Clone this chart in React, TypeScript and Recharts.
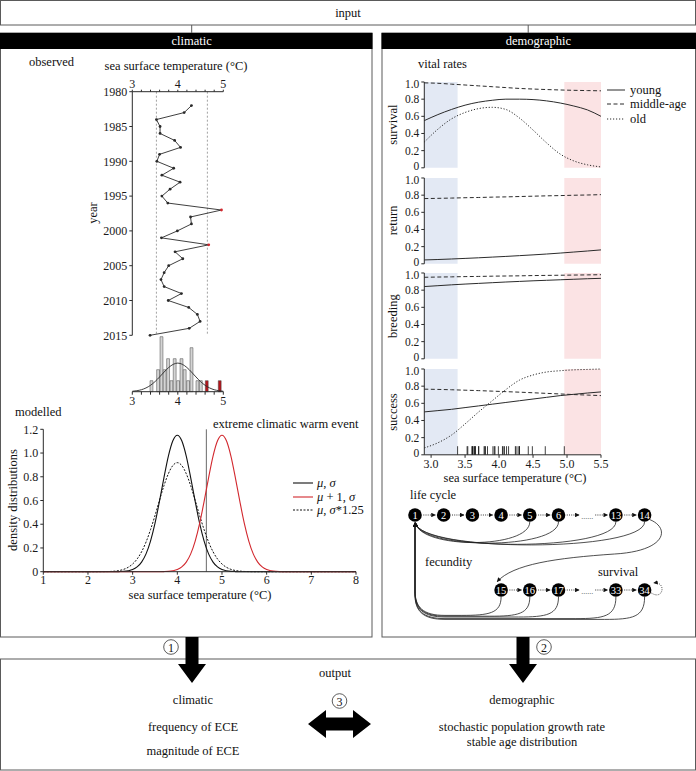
import React from 'react';
import {
  ScatterChart, Scatter, LineChart, Line, BarChart, Bar, Cell,
  XAxis, YAxis, ReferenceLine, ReferenceArea,
} from 'recharts';

const FONT = '"Liberation Serif", "Times New Roman", Times, serif';
const INK = '#2a2a2a';
const FRAME = '#5a5a5a';
const RED = '#d2282e';
const DARK_RED = '#b5141b';
const COLD_FILL = '#e3e9f4';
const WARM_FILL = '#fbe3e4';
const TICK = { fontSize: 12, fill: '#1a1a1a', fontFamily: FONT };

// ---------------- observed sea surface temperature ----------------
const YEARS = [1982, 1983, 1984, 1985, 1986, 1987, 1988, 1989, 1990, 1991, 1992, 1993, 1994, 1995, 1996, 1997, 1998,
  1999, 2000, 2001, 2002, 2003, 2004, 2005, 2006, 2007, 2008, 2009, 2010, 2011, 2012, 2013, 2014, 2015];
const SST = [4.30, 4.14, 3.53, 3.61, 3.61, 3.93, 4.06, 3.60, 3.54, 3.91, 3.65, 4.05, 3.83, 3.65, 3.78, 4.96, 4.28,
  4.30, 3.99, 3.64, 4.68, 3.94, 4.11, 3.80, 3.70, 3.63, 3.70, 4.08, 3.79, 4.24, 4.43, 4.49, 4.25, 3.39];
const LOWER_DASHED = 3.53;
const ECE_THRESHOLD = 4.65;
const OBS_TICKS_X = [3, 3.2, 3.4, 3.6, 3.8, 4, 4.2, 4.4, 4.6, 4.8, 5];
const OBS_TICKS_Y = [1980, 1985, 1990, 1995, 2000, 2005, 2010, 2015];

// histogram of observed values
const HIST_CENTERS = [3.425, 3.57, 3.645, 3.715, 3.79, 3.865, 3.935, 4.01, 4.085, 4.155, 4.23, 4.305, 4.435, 4.51, 4.64, 4.925];
const HIST_COUNTS = [1, 2, 5, 2, 3, 1, 3, 1, 3, 2, 1, 4, 1, 1, 1, 1];
const HIST_BIN_WIDTH = 0.0735;
const FIT_X = [3.0, 3.1, 3.2, 3.3, 3.4, 3.5, 3.6, 3.7, 3.8, 3.9, 4.0, 4.1, 4.2, 4.3, 4.4, 4.5, 4.6, 4.7, 4.8, 4.9, 5.0];
const FIT_COUNTS = [0.04, 0.09, 0.18, 0.34, 0.58, 0.92, 1.34, 1.79, 2.20, 2.49, 2.60, 2.49, 2.20, 1.79, 1.34, 0.92, 0.58, 0.34, 0.18, 0.09, 0.04];

// ---------------- modelled density distributions ----------------
const DENS_X = [1, 1.5, 2, 2.4, 2.5, 2.6, 2.7, 2.8, 2.9, 3.0, 3.1, 3.2, 3.3, 3.4, 3.5, 3.6, 3.7, 3.8, 3.9, 4.0, 4.1, 4.2,
  4.3, 4.4, 4.5, 4.6, 4.7, 4.8, 4.9, 5.0, 5.1, 5.2, 5.3, 5.4, 5.5, 5.6, 5.7, 5.8, 5.9, 6.0, 6.1, 6.2, 6.3, 6.4, 6.5, 6.6, 7, 7.5, 8];
const DENS_BASE = [0, 0, 0, 0, 0, 0, 0.001, 0.003, 0.008, 0.018, 0.040, 0.081, 0.150, 0.258, 0.407, 0.592, 0.791, 0.974,
  1.103, 1.150, 1.103, 0.974, 0.791, 0.592, 0.407, 0.258, 0.150, 0.081, 0.040, 0.018, 0.008, 0.003, 0.001,
  0, 0, 0, 0, 0, 0, 0, 0, 0, 0, 0, 0, 0, 0, 0, 0];
const DENS_WARM = [0, 0, 0, 0, 0, 0, 0, 0, 0, 0, 0, 0, 0, 0, 0, 0, 0.001, 0.003, 0.008, 0.018, 0.040, 0.081, 0.150,
  0.258, 0.407, 0.592, 0.791, 0.974, 1.103, 1.150, 1.103, 0.974, 0.791, 0.592, 0.407, 0.258, 0.150, 0.081, 0.040,
  0.018, 0.008, 0.003, 0.001, 0, 0, 0, 0, 0, 0];
const DENS_WIDE = [0, 0, 0, 0.001, 0.002, 0.005, 0.010, 0.020, 0.037, 0.065, 0.107, 0.168, 0.250, 0.354, 0.473, 0.601,
  0.724, 0.826, 0.895, 0.919, 0.895, 0.826, 0.724, 0.601, 0.473, 0.354, 0.250, 0.168, 0.107, 0.065, 0.037, 0.020,
  0.010, 0.005, 0.002, 0.001, 0, 0, 0, 0, 0, 0, 0, 0, 0, 0, 0, 0, 0];
const DENS_TICKS_X = [1, 2, 3, 4, 5, 6, 7, 8];
const DENS_TICKS_Y = [0, 0.2, 0.4, 0.6, 0.8, 1.0, 1.2];

// ---------------- vital rates ----------------
const VR_X = [2.9, 3.1, 3.3, 3.5, 3.7, 3.9, 4.1, 4.3, 4.5, 4.7, 4.9, 5.1, 5.3, 5.5];
const SURV_YOUNG = [0.55, 0.62, 0.68, 0.73, 0.765, 0.787, 0.80, 0.80, 0.795, 0.78, 0.755, 0.72, 0.675, 0.60];
const SURV_MIDDLE = [0.99, 0.985, 0.975, 0.965, 0.955, 0.945, 0.935, 0.925, 0.918, 0.912, 0.907, 0.903, 0.90, 0.897];
const SURV_OLD = [0.30, 0.45, 0.57, 0.645, 0.69, 0.705, 0.68, 0.58, 0.44, 0.29, 0.16, 0.08, 0.035, 0.01];
const RET_YOUNG = [0.045, 0.05, 0.056, 0.063, 0.07, 0.078, 0.086, 0.095, 0.104, 0.114, 0.125, 0.137, 0.149, 0.162];
const RET_MIDDLE = [0.76, 0.763, 0.766, 0.77, 0.773, 0.777, 0.78, 0.784, 0.788, 0.792, 0.795, 0.799, 0.802, 0.806];
const BREED_YOUNG = [0.842, 0.852, 0.862, 0.871, 0.879, 0.887, 0.895, 0.902, 0.909, 0.915, 0.921, 0.927, 0.933, 0.938];
const BREED_MIDDLE = [0.95, 0.953, 0.955, 0.958, 0.96, 0.963, 0.965, 0.967, 0.97, 0.972, 0.974, 0.976, 0.978, 0.98];
const SUCC_YOUNG = [0.50, 0.515, 0.53, 0.55, 0.57, 0.59, 0.61, 0.63, 0.65, 0.67, 0.69, 0.705, 0.72, 0.733];
const SUCC_MIDDLE = [0.765, 0.762, 0.758, 0.753, 0.748, 0.742, 0.736, 0.73, 0.723, 0.716, 0.709, 0.702, 0.696, 0.69];
const SUCC_OLD = [0.08, 0.14, 0.23, 0.36, 0.50, 0.63, 0.76, 0.87, 0.93, 0.965, 0.98, 0.99, 0.995, 1.0];
const VR_TICKS_X = [3.0, 3.5, 4.0, 4.5, 5.0, 5.5];
const VR_TICKS_Y = [0, 0.2, 0.4, 0.6, 0.8, 1.0];
const VR_LABELS = ['survival', 'return', 'breeding', 'success'];
const VR_LEGEND = ['young', 'middle-age', 'old'];

// ---------------- life cycle ----------------
const LIFE_NODES = [
  { label: '1', col: 0, row: 0 }, { label: '2', col: 1, row: 0 }, { label: '3', col: 2, row: 0 },
  { label: '4', col: 3, row: 0 }, { label: '5', col: 4, row: 0 }, { label: '6', col: 5, row: 0 },
  { label: '13', col: 7, row: 0 }, { label: '14', col: 8, row: 0 },
  { label: '15', col: 3, row: 1 }, { label: '16', col: 4, row: 1 }, { label: '17', col: 5, row: 1 },
  { label: '33', col: 7, row: 1 }, { label: '34', col: 8, row: 1 },
];
const LIFE_GAPS = [{ col: 6, row: 0 }, { col: 6, row: 1 }];
const FECUNDITY_FROM = ['5', '6', '13', '14', '15', '16', '17', '33', '34'];

const fmt1 = (v: number) => (v === 0 ? '0' : v.toFixed(1));
const fmtInt = (v: number) => (Number.isInteger(v) ? String(v) : '');

// ---------- generic text helper ----------
const Txt = ({ x, y, children, anchor = 'middle', size = 12.5, fill = '#111', rotate = false }: any) => (
  <text x={x} y={y} textAnchor={anchor} dominantBaseline="central" fontSize={size} fill={fill}
    fontFamily={FONT} transform={rotate ? `rotate(-90 ${x} ${y})` : undefined}>{children}</text>
);

const ObsDot = (props: any) => {
  const { cx, cy, payload } = props;
  return <circle cx={cx} cy={cy} r={1.4} fill={payload.temp > ECE_THRESHOLD ? RED : INK} />;
};

function Observed() {
  const data = YEARS.map((year, i) => ({ year, temp: SST[i] }));
  return (
    <div style={{ position: 'absolute', left: 80, top: 55 }}>
      <ScatterChart width={160} height={290} margin={{ top: 16.7, right: 16.7, bottom: 9.7, left: 12.3 }}>
        <XAxis type="number" dataKey="temp" orientation="top" domain={[3, 5]} ticks={OBS_TICKS_X} interval={0}
          tickFormatter={fmtInt} height={20} tickSize={2} tick={TICK} stroke={INK} />
        <YAxis type="number" dataKey="year" domain={[1980, 2015]} reversed ticks={OBS_TICKS_Y} interval={0}
          width={40} tickSize={3} tick={TICK} stroke={INK} />
        <ReferenceLine x={LOWER_DASHED} stroke="#8a8a8a" strokeDasharray="2 2" strokeWidth={0.8} />
        <ReferenceLine x={ECE_THRESHOLD} stroke="#8a8a8a" strokeDasharray="2 2" strokeWidth={0.8} />
        <Scatter data={data} line={{ stroke: INK, strokeWidth: 0.9 }} shape={ObsDot} isAnimationActive={false} />
      </ScatterChart>
    </div>
  );
}

function Histogram() {
  const bins = HIST_CENTERS.map((x, i) => ({ x, count: HIST_COUNTS[i] }));
  const fit = FIT_X.map((x, i) => ({ x, fit: FIT_COUNTS[i] }));
  return (
    <>
      <div style={{ position: 'absolute', left: 80, top: 325 }}>
        <BarChart width={160} height={90} data={bins} margin={{ top: 11.7, right: 16.7, bottom: 3.3, left: 52.3 }}
          barGap={0} barCategoryGap={0}>
          <XAxis type="number" dataKey="x" domain={[3, 5]} ticks={OBS_TICKS_X} interval={0} tickFormatter={fmtInt}
            height={20} tickSize={3} tick={TICK} stroke={INK} />
          <YAxis hide type="number" domain={[0, 5]} />
          <Bar dataKey="count" barSize={3.3} stroke="#444" strokeWidth={0.5} isAnimationActive={false}>
            {bins.map((b, i) => (
              <Cell key={i} fill={b.x + HIST_BIN_WIDTH / 2 > ECE_THRESHOLD ? DARK_RED : '#d4d4d4'} />
            ))}
          </Bar>
        </BarChart>
      </div>
      <div style={{ position: 'absolute', left: 80, top: 325 }}>
        <LineChart width={160} height={90} data={fit} margin={{ top: 11.7, right: 16.7, bottom: 23.3, left: 52.3 }}>
          <XAxis hide type="number" dataKey="x" domain={[3, 5]} />
          <YAxis hide type="number" domain={[0, 5]} />
          <Line type="monotone" dataKey="fit" stroke={INK} strokeWidth={0.9} dot={false} isAnimationActive={false} />
        </LineChart>
      </div>
    </>
  );
}

function Modelled() {
  const rows = DENS_X.map((x, i) => ({ x, base: DENS_BASE[i], warm: DENS_WARM[i], wide: DENS_WIDE[i] }));
  return (
    <div style={{ position: 'absolute', left: 0, top: 415 }}>
      <LineChart width={372} height={180} data={rows} margin={{ top: 14.3, right: 16, bottom: 5.3, left: 3.3 }}>
        <XAxis type="number" dataKey="x" domain={[1, 8]} ticks={DENS_TICKS_X} interval={0} height={18}
          tickSize={3} tickMargin={1} tick={TICK} stroke={INK} />
        <YAxis type="number" domain={[0, 1.2]} ticks={DENS_TICKS_Y} interval={0} width={40} tickSize={3}
          tickMargin={2} tickFormatter={fmt1} tick={TICK} stroke={INK} />
        <ReferenceLine x={ECE_THRESHOLD} stroke="#6a6a6a" strokeWidth={1} />
        <Line type="monotone" dataKey="base" stroke="#111" strokeWidth={1.1} dot={false} isAnimationActive={false} />
        <Line type="monotone" dataKey="wide" stroke="#111" strokeWidth={1} strokeDasharray="2 1.5" dot={false} isAnimationActive={false} />
        <Line type="monotone" dataKey="warm" stroke={RED} strokeWidth={1.1} dot={false} isAnimationActive={false} />
      </LineChart>
    </div>
  );
}

const VR_TOP0 = 81.7;
const VR_STEP = 95.8;
const VR_H = 85.8;

// y tick of the stacked vital-rate panels: nudge the end labels apart so adjacent panels don't collide
const VrYTick = (props: any) => {
  const { x, y, payload } = props;
  const v = payload.value;
  const dy = v === 0 ? -1.8 : v === 1 ? 1.8 : 0;
  return (
    <text x={x} y={y + dy} textAnchor="end" dominantBaseline="central" fontSize={11.5} fill="#1a1a1a" fontFamily={FONT}>
      {fmt1(v)}
    </text>
  );
};

function VitalPanel({ index, young, middle, old, withAxis }: any) {
  const top = VR_TOP0 + index * VR_STEP - 6;
  const rows = VR_X.map((x, i) => ({ x, young: young[i], middle: middle[i], old: old ? old[i] : null }));
  const height = withAxis ? 6 + VR_H + 22 + 6 : 6 + VR_H + 6;
  const coldEdge = Math.min(...SST);
  const warmEdge = Math.max(...SST);
  return (
    <div style={{ position: 'absolute', left: 385, top }}>
      <LineChart width={232} height={height} data={rows} margin={{ top: 6, right: 16, bottom: 6, left: 0 }}>
        <XAxis type="number" dataKey="x" domain={[2.9, 5.5]} hide={!withAxis} ticks={VR_TICKS_X} interval={0}
          height={22} tickSize={3} tickFormatter={(v: number) => v.toFixed(1)} tick={TICK} stroke={INK} />
        <YAxis type="number" domain={[0, 1]} ticks={VR_TICKS_Y} interval={0} width={39.3} tickSize={3}
          tick={<VrYTick />} stroke={INK} />
        <ReferenceArea x1={2.9} x2={coldEdge} y1={0} y2={1} fill={COLD_FILL} fillOpacity={1} stroke="none" />
        <ReferenceArea x1={warmEdge} x2={5.5} y1={0} y2={1} fill={WARM_FILL} fillOpacity={1} stroke="none" />
        {withAxis && SST.map((v, i) => (
          <ReferenceLine key={i} segment={[{ x: v, y: 0 }, { x: v, y: 0.1 }]} stroke="#111" strokeWidth={0.8} />
        ))}
        <Line type="monotone" dataKey="young" stroke={INK} strokeWidth={1} dot={false} isAnimationActive={false} />
        <Line type="monotone" dataKey="middle" stroke={INK} strokeWidth={1} strokeDasharray="4 2.5" dot={false} isAnimationActive={false} />
        {old && <Line type="monotone" dataKey="old" stroke={INK} strokeWidth={1} strokeDasharray="1.2 1.8" dot={false} isAnimationActive={false} />}
      </LineChart>
    </div>
  );
}

// life cycle geometry (local to its chart box)
const LC = { w: 290, h: 125, mt: 15, mb: 35, ml: 20, mr: 40.4 };
const NODE_R = 6.8;
const lx = (col: number) => LC.ml + (col * (LC.w - LC.ml - LC.mr)) / 8;
const ly = (row: number) => LC.mt + row * (LC.h - LC.mt - LC.mb);

const NodeShape = (props: any) => {
  const { cx, cy, payload } = props;
  return (
    <g>
      <circle cx={cx} cy={cy} r={NODE_R} fill="#000" />
      <text x={cx} y={cy + 0.5} textAnchor="middle" dominantBaseline="central" fill="#fff" fontSize={10.5}
        fontFamily={FONT}>{payload.label}</text>
    </g>
  );
};
const GapShape = (props: any) => {
  const { cx, cy } = props;
  return <text x={cx} y={cy + 1} textAnchor="middle" dominantBaseline="central" fill="#444" fontSize={8} fontFamily={FONT}>......</text>;
};

function LifeCycle() {
  const items = [...LIFE_NODES.map((n) => ({ ...n, gap: false })), ...LIFE_GAPS.map((g) => ({ ...g, label: '', gap: true }))];
  const chain: any[] = [];
  [0, 1].forEach((row) => {
    const r = items.filter((it) => it.row === row).sort((a, b) => a.col - b.col);
    for (let i = 0; i < r.length - 1; i++) {
      const a = r[i], b = r[i + 1];
      chain.push({
        x1: lx(a.col) + (a.gap ? 8 : NODE_R + 1.5),
        x2: lx(b.col) - (b.gap ? 8 : NODE_R + 1.5),
        y: ly(row),
      });
    }
  });
  const byLabel: any = {};
  LIFE_NODES.forEach((n) => (byLabel[n.label] = n));
  const x0 = lx(0), yTop = ly(0) + NODE_R;
  const fec = FECUNDITY_FROM.map((lab) => {
    const n = byLabel[lab];
    const xc = lx(n.col), yc = ly(n.row) + NODE_R;
    if (n.row === 0) {
      const ctrl = yTop + (40 + n.col * 0.6 - yTop) / 0.75;
      return `M${xc},${yc} C${xc},${ctrl} ${x0 + 5},${ctrl} ${x0 + 0.5},${yTop + 1}`;
    }
    const yb = 113 + n.col * 0.8;
    return `M${xc},${yc} C${xc},${yb - 2} ${xc - 12},${yb} ${xc - 40},${yb} L${x0 + 30},${yb} C${x0 + 8},${yb} ${x0},${yb - 8} ${x0},${yb - 25} L${x0},${yTop + 1}`;
  });
  const n14 = byLabel['14'], n15 = byLabel['15'], n34 = byLabel['34'];
  const a = { x: lx(n14.col), y: ly(n14.row) };
  const b = { x: lx(n15.col), y: ly(n15.row) };
  const trans = `M${a.x + 5},${a.y + 4.5} C${a.x + 26},${a.y + 13} ${a.x + 22},${a.y + 36} ${a.x - 30},${a.y + 39} C${b.x + 55},${a.y + 43} ${b.x + 12},${b.y - 26} ${b.x - 4},${b.y - NODE_R - 1.5}`;
  const s = { x: lx(n34.col), y: ly(n34.row) };
  const loop = `M${s.x + NODE_R},${s.y + 3} C${s.x + 19},${s.y + 11} ${s.x + 22},${s.y - 9} ${s.x + 9},${s.y - 7}`;
  return (
    <div style={{ position: 'absolute', left: 395, top: 500, width: LC.w, height: LC.h }}>
      <svg width={LC.w} height={LC.h} style={{ position: 'absolute', left: 0, top: 0, overflow: 'visible' }}>
        <defs>
          <marker id="ah" viewBox="0 0 6 6" refX="5.5" refY="3" markerWidth="4.5" markerHeight="4.5"
            markerUnits="userSpaceOnUse" orient="auto">
            <path d="M0,0 L6,3 L0,6 z" fill="#111" />
          </marker>
        </defs>
        {chain.map((c, i) => (
          <line key={i} x1={c.x1} y1={c.y} x2={c.x2} y2={c.y} stroke="#222" strokeWidth={0.9}
            strokeDasharray="1 1.2" markerEnd="url(#ah)" />
        ))}
        {fec.map((d, i) => (
          <path key={i} d={d} fill="none" stroke="#222" strokeWidth={0.8} markerEnd="url(#ah)" />
        ))}
        <path d={trans} fill="none" stroke="#222" strokeWidth={0.8} markerEnd="url(#ah)" />
        <path d={loop} fill="none" stroke="#222" strokeWidth={0.8} strokeDasharray="1 1.2" markerEnd="url(#ah)" />
      </svg>
      <div style={{ position: 'absolute', left: 0, top: 0 }}>
        <ScatterChart width={LC.w} height={LC.h} margin={{ top: LC.mt, right: LC.mr, bottom: LC.mb, left: LC.ml }}>
          <XAxis hide type="number" dataKey="col" domain={[0, 8]} />
          <YAxis hide type="number" dataKey="row" domain={[0, 1]} reversed />
          <Scatter data={LIFE_GAPS} shape={GapShape} isAnimationActive={false} />
          <Scatter data={LIFE_NODES} shape={NodeShape} isAnimationActive={false} />
        </ScatterChart>
      </div>
    </div>
  );
}

function Frames() {
  const arrowDown = (cx: number) =>
    `${cx - 6.5},637 ${cx + 6.5},637 ${cx + 6.5},664 ${cx + 14},664 ${cx},683 ${cx - 14},664 ${cx - 6.5},664`;
  return (
    <svg width={696} height={771} style={{ position: 'absolute', left: 0, top: 0 }}>
      {/* input */}
      <rect x={0.5} y={0.5} width={695} height={24.5} fill="none" stroke={FRAME} />
      <Txt x={348} y={13}>input</Txt>
      <line x1={191.7} y1={25} x2={191.7} y2={33} stroke={FRAME} />
      <line x1={528.2} y1={25} x2={528.2} y2={33} stroke={FRAME} />
      {/* climatic panel */}
      <rect x={0.5} y={33} width={371.5} height={604} fill="none" stroke={FRAME} />
      <rect x={0} y={33} width={372.5} height={16} fill="#000" />
      <Txt x={191.7} y={41} fill="#fff">climatic</Txt>
      {/* demographic panel */}
      <rect x={382} y={33} width={313.5} height={604} fill="none" stroke={FRAME} />
      <rect x={381.5} y={33} width={314.5} height={16} fill="#000" />
      <Txt x={538.4} y={41} fill="#fff">demographic</Txt>

      {/* climatic texts */}
      <Txt x={29} y={62} anchor="start">observed</Txt>
      <Txt x={176} y={66}>sea surface temperature (°C)</Txt>
      <Txt x={93} y={213} rotate>year</Txt>
      <Txt x={15} y={412} anchor="start">modelled</Txt>
      <Txt x={213} y={424} anchor="start">extreme climatic warm event</Txt>
      <Txt x={13} y={500} rotate>density distributions</Txt>
      <Txt x={200} y={595}>sea surface temperature (°C)</Txt>
      {/* modelled legend */}
      <line x1={293} y1={483} x2={313} y2={483} stroke="#111" strokeWidth={1.1} />
      <line x1={293} y1={497} x2={313} y2={497} stroke={RED} strokeWidth={1.1} />
      <line x1={293} y1={510} x2={313} y2={510} stroke="#111" strokeWidth={1} strokeDasharray="2 1.5" />
      <text x={317} y={483} dominantBaseline="central" fontSize={12.5} fontFamily={FONT} fill="#111">
        <tspan fontStyle="italic">μ</tspan>, <tspan fontStyle="italic">σ</tspan>
      </text>
      <text x={317} y={497} dominantBaseline="central" fontSize={12.5} fontFamily={FONT} fill="#111">
        <tspan fontStyle="italic">μ</tspan> + 1, <tspan fontStyle="italic">σ</tspan>
      </text>
      <text x={317} y={510} dominantBaseline="central" fontSize={12.5} fontFamily={FONT} fill="#111">
        <tspan fontStyle="italic">μ</tspan>, <tspan fontStyle="italic">σ</tspan>*1.25
      </text>

      {/* demographic texts */}
      <Txt x={418} y={64} anchor="start">vital rates</Txt>
      {VR_LABELS.map((lab, i) => (
        <Txt key={lab} x={393} y={VR_TOP0 + i * VR_STEP + VR_H / 2} rotate>{lab}</Txt>
      ))}
      <Txt x={515} y={478}>sea surface temperature (°C)</Txt>
      <line x1={607} y1={90} x2={625} y2={90} stroke={INK} strokeWidth={1} />
      <line x1={607} y1={104} x2={625} y2={104} stroke={INK} strokeWidth={1} strokeDasharray="4 2.5" />
      <line x1={607} y1={119} x2={625} y2={119} stroke={INK} strokeWidth={1} strokeDasharray="1.2 1.8" />
      {VR_LEGEND.map((lab, i) => (
        <Txt key={lab} x={630} y={[90, 104, 119][i]} anchor="start">{lab}</Txt>
      ))}
      <Txt x={410} y={495} anchor="start">life cycle</Txt>
      <Txt x={425} y={562} anchor="start">fecundity</Txt>
      <Txt x={598} y={572} anchor="start">survival</Txt>

      {/* output */}
      <rect x={0.5} y={659} width={695} height={111} fill="none" stroke={FRAME} />
      <polygon points={arrowDown(192)} fill="#000" />
      <polygon points={arrowDown(523)} fill="#000" />
      <circle cx={171} cy={647} r={7.3} fill="#fff" stroke="#333" strokeWidth={0.8} />
      <Txt x={171} y={647.5} size={12}>1</Txt>
      <circle cx={544} cy={647} r={7.3} fill="#fff" stroke="#333" strokeWidth={0.8} />
      <Txt x={544} y={647.5} size={12}>2</Txt>
      <Txt x={335} y={673}>output</Txt>
      <Txt x={193} y={700}>climatic</Txt>
      <Txt x={193} y={727}>frequency of ECE</Txt>
      <Txt x={193} y={751}>magnitude of ECE</Txt>
      <Txt x={522} y={700}>demographic</Txt>
      <Txt x={522} y={727}>stochastic population growth rate</Txt>
      <Txt x={522} y={742}>stable age distribution</Txt>
      <circle cx={339.5} cy={701} r={7.3} fill="#fff" stroke="#333" strokeWidth={0.8} />
      <Txt x={339.5} y={701.5} size={12}>3</Txt>
      <polygon points="308,724 326,710 326,717.5 353,717.5 353,710 371,724 353,738 353,730.5 326,730.5 326,738" fill="#000" />
    </svg>
  );
}

export default function App() {
  return (
    <div style={{ position: 'fixed', left: 0, top: 0, width: 696, height: 771, background: '#fff', fontFamily: FONT, overflow: 'hidden' }}>
      <Frames />
      <Observed />
      <Histogram />
      <Modelled />
      <VitalPanel index={0} young={SURV_YOUNG} middle={SURV_MIDDLE} old={SURV_OLD} withAxis={false} />
      <VitalPanel index={1} young={RET_YOUNG} middle={RET_MIDDLE} withAxis={false} />
      <VitalPanel index={2} young={BREED_YOUNG} middle={BREED_MIDDLE} withAxis={false} />
      <VitalPanel index={3} young={SUCC_YOUNG} middle={SUCC_MIDDLE} old={SUCC_OLD} withAxis />
      <LifeCycle />
    </div>
  );
}
